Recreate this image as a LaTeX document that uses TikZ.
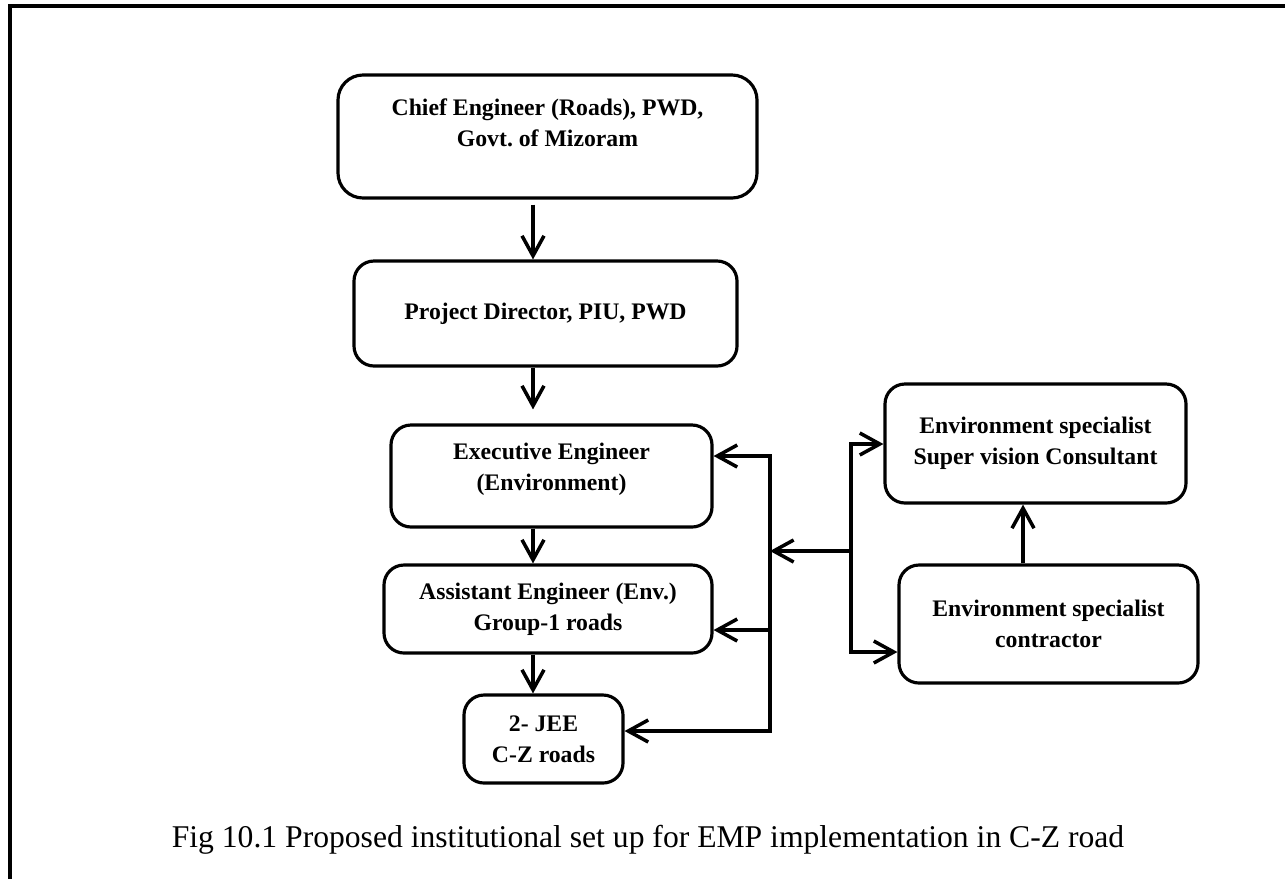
\documentclass[tikz,border=0pt]{standalone}
\usepackage{fontspec}
\setmainfont{Liberation Serif}
\usepackage{tikz}
\usetikzlibrary{arrows.meta}

\begin{document}
\begin{tikzpicture}[x=0.2mm, y=-0.2mm,
  box/.style={draw, line width=1.8pt, rounded corners=4mm, align=center, inner sep=0pt,
    font=\fontsize{13.5}{17.6}\selectfont\bfseries},
  arr/.style={line width=2pt, -{Straight Barb[length=4mm, width=4.4mm]}}]
  \useasboundingbox (0,0) rectangle (1285,878);
  \clip (0,0) rectangle (1285,878);
  \draw[line width=2.6pt] (10,900) -- (10,6) -- (1300,6);

  \node[box, rounded corners=5mm, minimum width=83.8mm, minimum height=24.6mm, text depth=5.4mm] (chief) at (547.5,136.5) {Chief Engineer (Roads), PWD,\\Govt.\ of Mizoram};
  \node[box, minimum width=76.6mm, minimum height=21mm] (pd) at (545.5,313.5) {Project Director, PIU, PWD};
  \node[box, minimum width=64.2mm, minimum height=20.4mm, text depth=3.6mm] (exec) at (551.5,476) {Executive Engineer\\(Environment)};
  \node[box, minimum width=65.6mm, minimum height=17.6mm] (asst) at (548,609) {Assistant Engineer (Env.)\\Group-1 roads};
  \node[box, minimum width=31.8mm, minimum height=17.6mm] (jee) at (543.5,739) {2- JEE\\C-Z roads};
  \node[box, minimum width=60.2mm, minimum height=23.8mm] (esc) at (1035.5,443.5) {Environment specialist\\Super vision Consultant};
  \node[box, minimum width=59.8mm, minimum height=23.6mm] (esk) at (1048.5,624) {Environment specialist\\contractor};

  \coordinate (spine) at (533,0);
  \coordinate (up) at (1023,0);
  \coordinate (b1t) at (770,456);
  \coordinate (b1a) at (770,630);
  \coordinate (b1m) at (770,551);
  \coordinate (b1b) at (770,731);
  \coordinate (b2t) at (851,444);
  \coordinate (b2m) at (851,551);
  \coordinate (b2b) at (851,652);

  \draw[arr, shorten <=1mm] (chief.south -| spine) -- (pd.north -| spine);
  \draw[arr, shorten >=2.8mm] (pd.south -| spine) -- (exec.north -| spine);
  \draw[arr] (exec.south -| spine) -- (asst.north -| spine);
  \draw[arr] (asst.south -| spine) -- (jee.north -| spine);

  \draw[arr] (b1b) -- (b1t) -- (exec.east |- b1t);
  \draw[arr] (b1a) -- (asst.east |- b1a);
  \draw[arr] (b1t) -- (b1b) -- (jee.east |- b1b);
  \draw[arr] (b2b) -- (b2t) -- (esc.west |- b2t);
  \draw[arr] (b2t) -- (b2b) -- (esk.west |- b2b);
  \draw[arr] (b2m) -- (b1m);
  \draw[arr] (esk.north -| up) -- (esc.south -| up);

  \node[font=\fontsize{18}{22}\selectfont, anchor=base] (caption) at (648,847) {Fig 10.1 Proposed institutional set up for EMP implementation in C-Z road};
\end{tikzpicture}
\end{document}
